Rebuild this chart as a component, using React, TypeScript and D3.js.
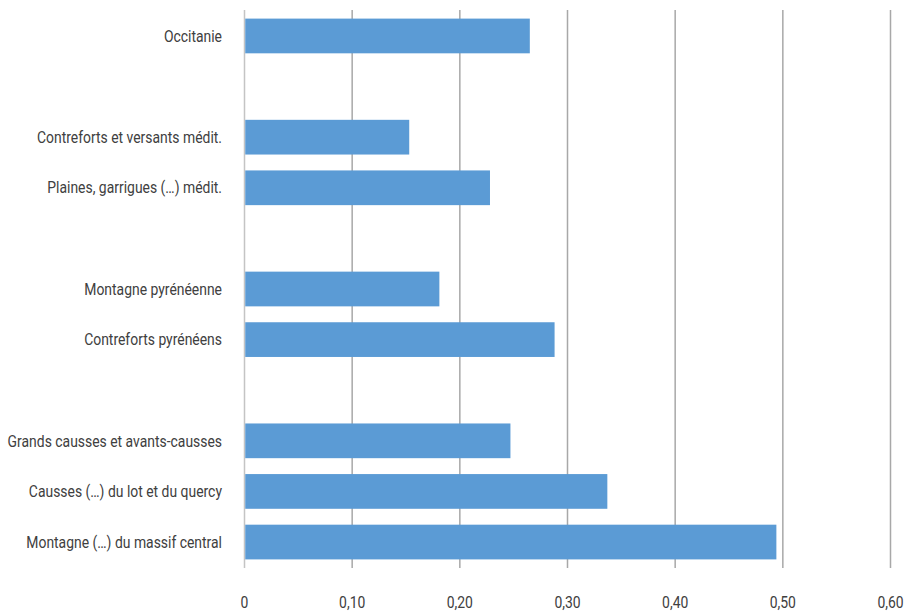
import React from "react";
import * as d3 from "d3";

const categories = [
  "Occitanie",
  "",
  "Contreforts et versants médit.",
  "Plaines, garrigues (…) médit.",
  " ",
  "Montagne pyrénéenne",
  "Contreforts pyrénéens",
  "  ",
  "Grands causses et avants-causses",
  "Causses (…) du lot et du quercy",
  "Montagne (…) du massif central",
];
const values: (number | null)[] = [0.265, null, 0.153, 0.228, null, 0.181, 0.288, null, 0.247, 0.337, 0.494];
const xTicks = [0, 0.1, 0.2, 0.3, 0.4, 0.5, 0.6];
const tickLabels = ["0", "0,10", "0,20", "0,30", "0,40", "0,50", "0,60"];

const W = 918;
const H = 612;
const FONT = "Roboto, 'Noto Sans', sans-serif";
const SX = 0.86;

export default function App() {
  const x = d3.scaleLinear().domain([0, 0.6]).range([244.5, 890.5]);
  const y = d3
    .scaleBand<string>()
    .domain(categories)
    .range([10, 568])
    .paddingInner(0.314)
    .paddingOuter(0.17);

  return (
    <svg
      width={W}
      height={H}
      style={{ position: "absolute", left: 0, top: 0, background: "#fff" }}
      fontFamily={FONT}
    >
      {xTicks.map((t, i) => (
        <line
          key={"g" + i}
          x1={x(t)}
          x2={x(t)}
          y1={10}
          y2={568}
          stroke={i === 0 ? "#c4c4c4" : "#a8a8a8"}
          strokeWidth={1.5}
        />
      ))}
      {categories.map((c, i) =>
        values[i] == null ? null : (
          <rect
            key={"b" + i}
            x={x(0) + 0.75}
            y={y(c)}
            width={x(values[i] as number) - x(0) - 0.75}
            height={y.bandwidth()}
            fill="#5B9BD5"
          />
        )
      )}
      {categories.map((c, i) =>
        values[i] == null ? null : (
          <g
            key={"l" + i}
            transform={`translate(222,${(y(c) as number) + y.bandwidth() / 2}) scale(${SX},1)`}
          >
            <text dy="0.35em" textAnchor="end" fontSize={16.2} fill="#404040">
              {c.trim()}
            </text>
          </g>
        )
      )}
      {xTicks.map((t, i) => (
        <g key={"t" + i} transform={`translate(${x(t)},602) scale(${SX},1)`}>
          <text dy="0.35em" textAnchor="middle" fontSize={16.2} fill="#404040">
            {tickLabels[i]}
          </text>
        </g>
      ))}
    </svg>
  );
}
